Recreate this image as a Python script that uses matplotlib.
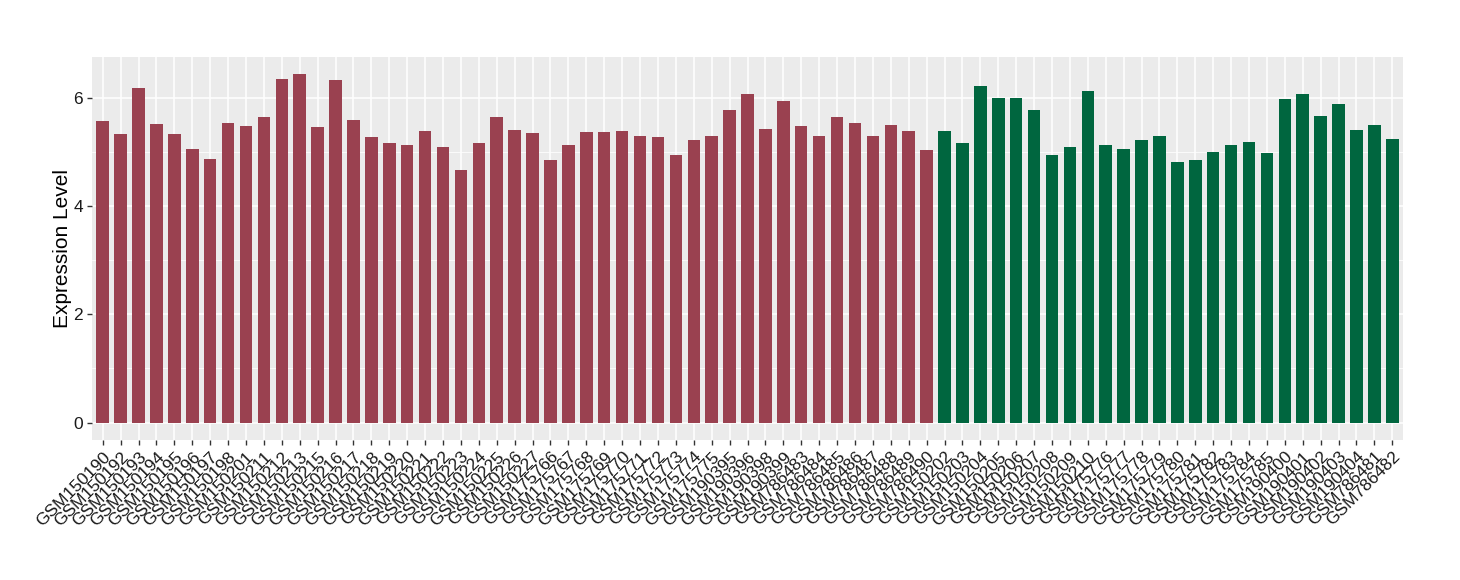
import matplotlib
matplotlib.use("Agg")
import matplotlib.pyplot as plt
import numpy as np

# sample ids, first group (red) then second group (green)
group_a = ["GSM150190", "GSM150192", "GSM150193", "GSM150194", "GSM150195", "GSM150196",
           "GSM150197", "GSM150198", "GSM150201", "GSM150211", "GSM150212", "GSM150213",
           "GSM150215", "GSM150216", "GSM150217", "GSM150218", "GSM150219", "GSM150220",
           "GSM150221", "GSM150222", "GSM150223", "GSM150224", "GSM150225", "GSM150226",
           "GSM150227", "GSM175766", "GSM175767", "GSM175768", "GSM175769", "GSM175770",
           "GSM175771", "GSM175772", "GSM175773", "GSM175774", "GSM175775", "GSM190395",
           "GSM190396", "GSM190398", "GSM190399", "GSM786483", "GSM786484", "GSM786485",
           "GSM786486", "GSM786487", "GSM786488", "GSM786489", "GSM786490"]
values_a = [5.56, 5.32, 6.17, 5.52, 5.32, 5.06, 4.86, 5.54, 5.47, 5.64, 6.34, 6.43,
            5.45, 6.32, 5.58, 5.27, 5.16, 5.12, 5.38, 5.08, 4.67, 5.17, 5.64, 5.41,
            5.34, 4.84, 5.12, 5.36, 5.36, 5.39, 5.30, 5.28, 4.95, 5.21, 5.30, 5.77,
            6.06, 5.43, 5.93, 5.47, 5.30, 5.65, 5.54, 5.30, 5.49, 5.39, 5.04]

group_b = ["GSM150202", "GSM150203", "GSM150204", "GSM150205", "GSM150206", "GSM150207",
           "GSM150208", "GSM150209", "GSM150210", "GSM175776", "GSM175777", "GSM175778",
           "GSM175779", "GSM175780", "GSM175781", "GSM175782", "GSM175783", "GSM175784",
           "GSM175785", "GSM190400", "GSM190401", "GSM190402", "GSM190403", "GSM190404",
           "GSM786481", "GSM786482"]
values_b = [5.39, 5.17, 6.21, 5.99, 5.99, 5.77, 4.95, 5.08, 6.12, 5.12, 5.06, 5.21,
            5.30, 4.82, 4.84, 4.99, 5.12, 5.19, 4.97, 5.97, 6.06, 5.67, 5.89, 5.41,
            5.49, 5.23]

labels = group_a + group_b
values = values_a + values_b
colors = ["#9A4150"] * len(group_a) + ["#00663F"] * len(group_b)
x = np.arange(len(labels))

plt.rcParams['font.family'] = ['Liberation Sans', 'DejaVu Sans']

fig = plt.figure(figsize=(14.6, 5.8), dpi=100)
ax = fig.add_axes([92 / 1460, 140 / 580, 1311 / 1460, 383 / 580])
ax.set_facecolor("#EBEBEB")

ax.bar(x, values, width=0.7, color=colors, zorder=3)

ax.set_xlim(-0.6, len(labels) - 0.4)
ax.set_ylim(-0.32, 6.75)
ax.set_yticks([0, 2, 4, 6])
ax.set_yticks([1, 3, 5], minor=True)
ax.set_xticks(x)
ax.set_xticklabels(labels, rotation=45, ha="right", rotation_mode="anchor", fontsize=12.5)
ax.tick_params(axis="y", labelsize=12.5)
ax.tick_params(which="major", length=3.5, width=1, color="#333333", labelcolor="#1a1a1a", pad=3)
ax.tick_params(which="minor", length=0)

ax.grid(which="major", color="white", linewidth=1.1, zorder=0)
ax.grid(which="minor", axis="y", color="white", linewidth=0.55, zorder=0)
ax.set_axisbelow(True)
for s in ax.spines.values():
    s.set_visible(False)

ax.set_ylabel("Expression Level", fontsize=15, labelpad=1)

fig.savefig("out.png", dpi=100)
